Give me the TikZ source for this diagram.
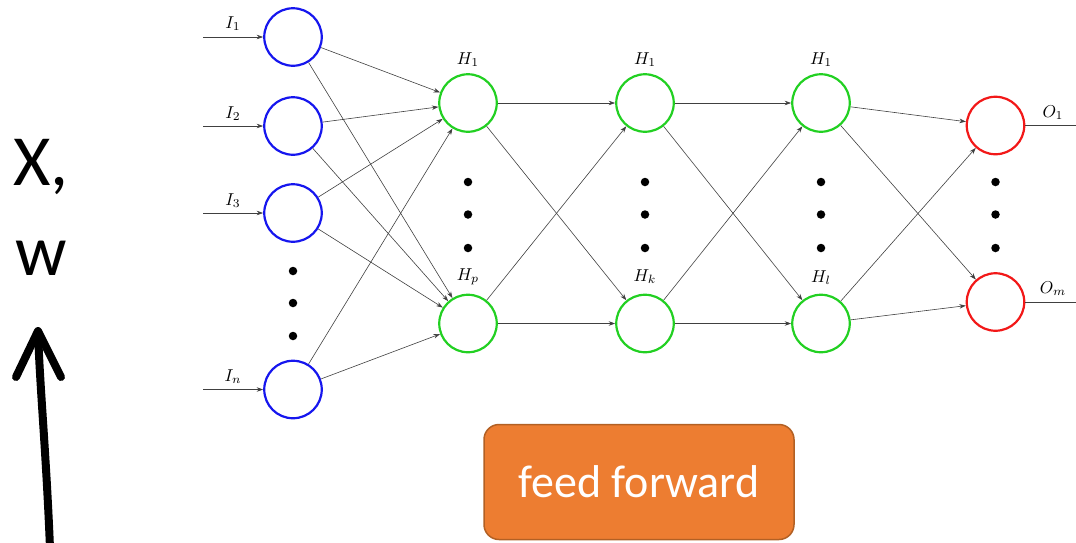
\documentclass[tikz,border=0pt]{standalone}
\usepackage{fontspec}
\newfontfamily\calib{Carlito}
\usetikzlibrary{arrows.meta}
\definecolor{nnblue}{RGB}{22,22,238}
\definecolor{nngreen}{RGB}{34,208,34}
\definecolor{nnred}{RGB}{242,24,24}
\definecolor{ffill}{RGB}{237,125,49}
\definecolor{fline}{RGB}{178,96,36}
\begin{document}
\begin{tikzpicture}[x=1pt,y=-1pt,
  neuron/.style={circle,draw,line width=2.2pt,minimum size=57.5pt,inner sep=0pt},
  inp/.style={neuron,draw=nnblue},
  hid/.style={neuron,draw=nngreen},
  outp/.style={neuron,draw=nnred},
  link/.style={draw=black!75,line width=0.6pt,-{Stealth[length=6.5pt,width=4.5pt]}},
  plain/.style={draw=black!75,line width=0.8pt},
  lbl/.style={anchor=base,scale=1.72,inner sep=0pt},
  vdot/.style={circle,fill=black,minimum size=8.5pt,inner sep=0pt},
  bigtext/.style={anchor=base,font=\calib\fontsize{72}{80}\selectfont,inner sep=0pt}
]
\useasboundingbox (0,0) rectangle (1076,542);

% input layer
\node[inp] (i1) at (293,37) {};
\node[inp] (i2) at (293,126) {};
\node[inp] (i3) at (293,213) {};
\node[inp] (in) at (293,389.5) {};
\foreach \y/\n in {271/a,303/b,336/c} \node[vdot] (di\n) at (293,\y) {};

% hidden layers
\foreach \x/\c in {468/a,645/b,821/c}{
  \node[hid] (h\c1) at (\x,103) {};
  \node[hid] (h\c2) at (\x,323.5) {};
  \foreach \y/\n in {182/a,214.5/b,248/c} \node[vdot] (d\c\n) at (\x,\y) {};
}

% output layer
\node[outp] (o1) at (995.5,125.5) {};
\node[outp] (om) at (995.5,302) {};
\foreach \y/\n in {182/a,214.5/b,248/c} \node[vdot] (do\n) at (995.5,\y) {};

% labels
\node[lbl] (li1) at (233,28) {$I_1$};
\node[lbl] (li2) at (233,118) {$I_2$};
\node[lbl] (li3) at (233,205) {$I_3$};
\node[lbl] (lin) at (233,381) {$I_n$};
\node[lbl] (lha1) at (468,64) {$H_1$};
\node[lbl] (lha2) at (468,280) {$H_p$};
\node[lbl] (lhb1) at (645,64) {$H_1$};
\node[lbl] (lhb2) at (645,281) {$H_k$};
\node[lbl] (lhc1) at (821,64) {$H_1$};
\node[lbl] (lhc2) at (821,282) {$H_l$};
\node[lbl] (lo1) at (1053,117) {$O_1$};
\node[lbl] (lom) at (1053,293) {$O_m$};

% inputs entering the network
\foreach \n in {i1,i2,i3,in}{
  \coordinate (s\n) at ([xshift=-90pt]\n.center);
  \draw[link] (s\n) -- (\n);
}

% weighted connections
\foreach \a in {i1,i2,i3,in}
  \foreach \b in {ha1,ha2} \draw[link] (\a) -- (\b);
\foreach \a in {ha1,ha2}
  \foreach \b in {hb1,hb2} \draw[link] (\a) -- (\b);
\foreach \a in {hb1,hb2}
  \foreach \b in {hc1,hc2} \draw[link] (\a) -- (\b);
\foreach \a in {hc1,hc2}
  \foreach \b in {o1,om} \draw[link] (\a) -- (\b);

% outputs leaving the network
\coordinate (eo1) at (1076,125.5);
\coordinate (eom) at (1076,302);
\draw[plain] (o1) -- (eo1);
\draw[plain] (om) -- (eom);

% parameters and upward arrow
\node[bigtext] (tx) at (41,185) {X,};
\node[bigtext] (tw) at (41,275) {w};
\coordinate (abase) at (50,548);
\coordinate (atip) at (38,331);
\coordinate (wl) at (16,377);
\coordinate (wr) at (61,377);
\draw[line width=8pt] (abase) .. controls (46,450) and (40,390) .. (atip);
\draw[line width=8pt,line cap=round,line join=round] (wl) -- (atip) -- (wr);

% stage box
\node[draw=fline,fill=ffill,line width=1.5pt,rounded corners=15pt,
      minimum width=310pt,minimum height=115pt,inner sep=0pt,
      text=white,font=\calib\fontsize{46}{50}\selectfont] (ff) at (639,482) {feed forward};
\end{tikzpicture}
\end{document}
